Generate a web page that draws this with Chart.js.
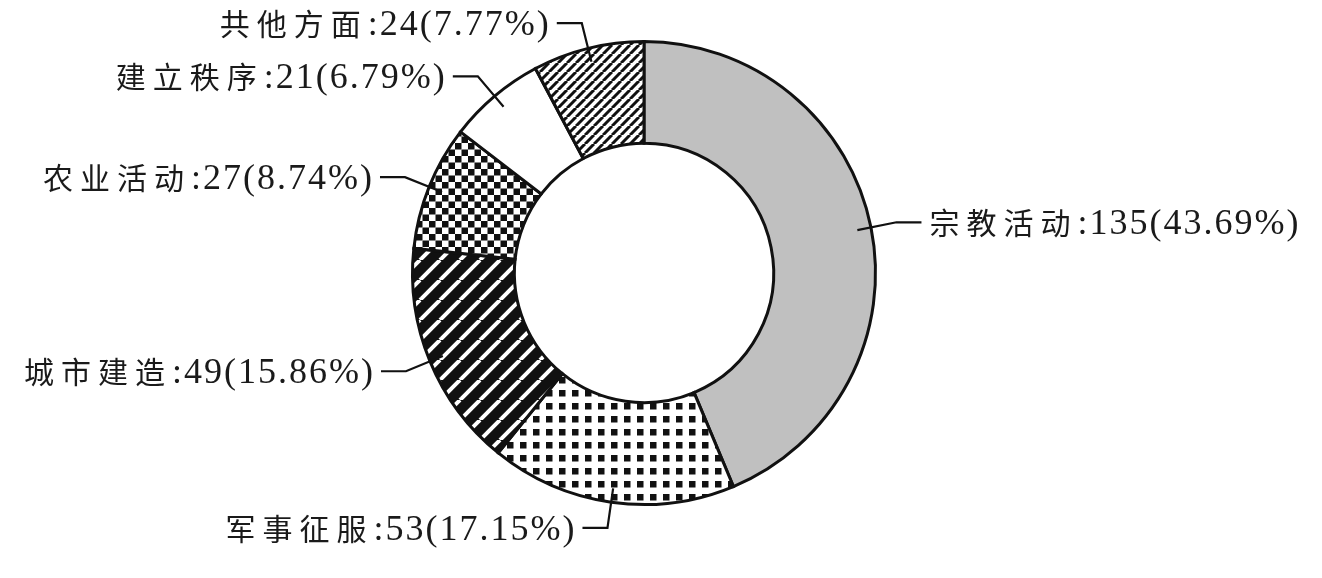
<!DOCTYPE html>
<html>
<head>
<meta charset="utf-8">
<script src="https://cdn.jsdelivr.net/npm/chart.js@4.4.1/dist/chart.umd.min.js"></script>
<style>
  body { margin: 0; background: #fff; }
  canvas { display: block; }
</style>
</head>
<body>
<canvas id="donut" width="1322" height="578"></canvas>
<script>
// data (clockwise from 12 o'clock)
const categories = ['宗教活动', '军事征服', '城市建造', '农业活动', '建立秩序', '共他方面'];
const counts = [135, 53, 49, 27, 21, 24];
const percentLabels = ['43.69', '17.15', '15.86', '8.74', '6.79', '7.77'];

function makeTile(size, draw) {
    const c = document.createElement('canvas');
    c.width = size;
    c.height = size;
    const g = c.getContext('2d');
    draw(g, size);
    return g.createPattern(c, 'repeat');
}

const ctx = document.getElementById('donut').getContext('2d');

// fills for each slice
const fills = [
    '#c0c0c0',
    // small black squares
    makeTile(13, (g, s) => {
        g.fillStyle = '#fff'; g.fillRect(0, 0, s, s);
        g.fillStyle = '#111'; g.fillRect(0, 0, 6.5, 6.5);
    }),
    // wide black stripes with thin white lines
    makeTile(20, (g, s) => {
        g.fillStyle = '#111'; g.fillRect(0, 0, s, s);
        g.strokeStyle = '#fff'; g.lineWidth = 4;
        for (let k = -1; k <= 1; k++) {
            g.beginPath(); g.moveTo(k * s, s); g.lineTo(k * s + s, 0); g.stroke();
        }
    }),
    // checkerboard
    makeTile(13, (g, s) => {
        g.fillStyle = '#fff'; g.fillRect(0, 0, s, s);
        g.fillStyle = '#111';
        g.fillRect(0, 0, 6.5, 6.5);
        g.fillRect(6.5, 6.5, 6.5, 6.5);
    }),
    '#ffffff',
    // thin black diagonal lines
    makeTile(9, (g, s) => {
        g.fillStyle = '#fff'; g.fillRect(0, 0, s, s);
        g.strokeStyle = '#111'; g.lineWidth = 3;
        for (let k = -1; k <= 1; k++) {
            g.beginPath(); g.moveTo(k * s, s); g.lineTo(k * s + s, 0); g.stroke();
        }
    })
];

const CJK_FONT = '30px "Noto Sans CJK SC"';
const NUM_FONT = '36px "Liberation Serif"';
const CJK_GAP = 7;
const NUM_GAP = 2;

function spacedWidth(g, text, gap) {
    let w = 0;
    for (const ch of text) w += g.measureText(ch).width + gap;
    return w;
}

function drawSpaced(g, text, x, y, gap) {
    for (const ch of text) {
        g.fillText(ch, x, y);
        x += g.measureText(ch).width + gap;
    }
    return x;
}

// leader lines + labels
const leaderLabels = {
    id: 'leaderLabels',
    afterDatasetsDraw(chart) {
        const g = chart.ctx;
        const meta = chart.getDatasetMeta(0);
        g.save();
        g.strokeStyle = '#111';
        g.fillStyle = '#1a1a1a';
        g.lineWidth = 2.2;
        g.textBaseline = 'alphabetic';
        g.textAlign = 'left';
        meta.data.forEach((arc, i) => {
            const p = arc.getProps(['x', 'y', 'startAngle', 'endAngle', 'outerRadius']);
            const mid = (p.startAngle + p.endAngle) / 2;
            const cos = Math.cos(mid), sin = Math.sin(mid);
            const x0 = p.x + cos * p.outerRadius * 0.94;
            const y0 = p.y + sin * p.outerRadius * 0.94;
            const x1 = p.x + cos * (p.outerRadius + 26);
            const y1 = p.y + sin * (p.outerRadius + 26);
            const dir = cos >= 0 ? 1 : -1;
            const x2 = x1 + dir * 25;

            g.beginPath();
            g.moveTo(x0, y0);
            g.lineTo(x1, y1);
            g.lineTo(x2, y1);
            g.stroke();

            const name = categories[i];
            const value = ':' + counts[i] + '(' + percentLabels[i] + '%)';
            g.font = CJK_FONT;
            const wName = spacedWidth(g, name, CJK_GAP);
            g.font = NUM_FONT;
            const wValue = spacedWidth(g, value, NUM_GAP) - NUM_GAP;
            const total = wName + wValue;
            const tx = dir > 0 ? x2 + 8 : x2 - 8 - total;
            const baseY = y1 + 12;

            g.font = CJK_FONT;
            const xv = drawSpaced(g, name, tx, baseY, CJK_GAP);
            g.font = NUM_FONT;
            drawSpaced(g, value, xv, baseY, NUM_GAP);
        });
        g.restore();
    }
};

new Chart(ctx, {
    type: 'doughnut',
    data: {
        labels: categories,
        datasets: [{
            data: counts,
            backgroundColor: fills,
            borderColor: '#111',
            borderWidth: 3,
            borderJoinStyle: 'miter'
        }]
    },
    options: {
        responsive: false,
        animation: false,
        cutout: '56%',
        layout: { padding: { top: 40, bottom: 72, left: 0, right: 34 } },
        plugins: {
            legend: { display: false },
            tooltip: { enabled: false }
        }
    },
    plugins: [leaderLabels]
});
</script>
</body>
</html>
